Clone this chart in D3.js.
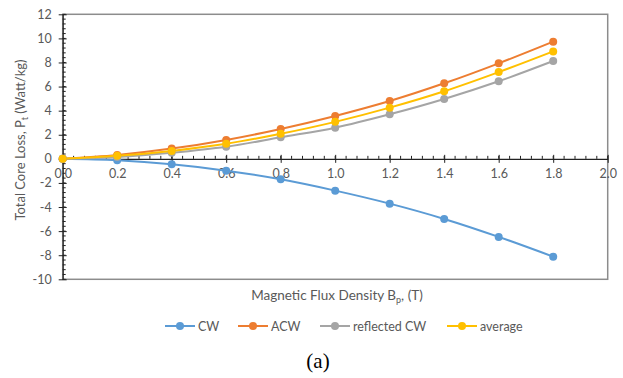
<!DOCTYPE html>
<html><head><meta charset="utf-8">
<script src="https://cdn.jsdelivr.net/npm/d3@7"></script>
<style>body{margin:0;background:#fff}svg{display:block}</style>
</head><body><svg id="c" width="623" height="378" font-family="Lato, 'Open Sans', sans-serif"></svg>
<script>
const B = [0, 0.2, 0.4, 0.6, 0.8, 1.0, 1.2, 1.4, 1.6, 1.8];
const CW = [0, -0.12, -0.45, -0.98, -1.7, -2.64, -3.72, -4.99, -6.48, -8.12];
const ACW = [0, 0.32, 0.85, 1.57, 2.48, 3.56, 4.8, 6.27, 7.93, 9.73];
const reflectedCW = [0, 0.15, 0.5, 1.0, 1.79, 2.59, 3.7, 4.97, 6.44, 8.12];
const average = [0, 0.25, 0.66, 1.25, 2.08, 3.07, 4.25, 5.61, 7.2, 8.92];
const xTicks = [0, 0.2, 0.4, 0.6, 0.8, 1.0, 1.2, 1.4, 1.6, 1.8, 2.0];
const yTicks = [-10, -8, -6, -4, -2, 0, 2, 4, 6, 8, 10, 12];
const seriesNames = ["CW", "ACW", "reflected CW", "average"];
const seriesColors = ["#5B9BD5", "#ED7D31", "#A5A5A5", "#FFC000"];
const seriesData = [CW, ACW, reflectedCW, average];

const svg = d3.select("#c");
const L = 62.7, R = 607.7, T = 14.3, Bt = 279.3;
const x = d3.scaleLinear().domain([0, 2]).range([L, R]);
const y = d3.scaleLinear().domain([-10, 12]).range([Bt, T]);
const grey = "#595959";
const FONT = "Lato, 'Open Sans', sans-serif";

// plot box
svg.append("rect").attr("x", L).attr("y", T).attr("width", R - L).attr("height", Bt - T)
  .attr("fill", "none").attr("stroke", "#8c8c8c").attr("stroke-width", 1.5);

// minor ticks
const xMinor = d3.range(0, 2.0001, 0.04);
const yMinor = d3.range(-10, 12.0001, 0.4);
svg.append("g").selectAll("line").data(xMinor).join("line")
  .attr("x1", d => x(d)).attr("x2", d => x(d)).attr("y1", y(0) - 3).attr("y2", y(0))
  .attr("stroke", "#222").attr("stroke-width", 1);
svg.append("g").selectAll("line").data(yMinor).join("line")
  .attr("x1", L).attr("x2", L + 3).attr("y1", d => y(d)).attr("y2", d => y(d))
  .attr("stroke", "#222").attr("stroke-width", 1);

// x axis at y=0
const gx = svg.append("g").attr("transform", `translate(0,${y(0)})`)
  .call(d3.axisBottom(x).tickValues(xTicks).tickFormat(d3.format(".1f")).tickSize(4).tickSizeOuter(0));
gx.attr("font-family", FONT);
gx.select(".domain").attr("stroke", "#222").attr("stroke-width", 1.2);
gx.selectAll(".tick line").attr("y1", -4).attr("y2", 4).attr("stroke", "#222");
gx.selectAll(".tick text").attr("y", 10).attr("fill", grey).attr("font-size", 12.5);

// y axis
const gy = svg.append("g").attr("transform", `translate(${L},0)`)
  .call(d3.axisLeft(y).tickValues(yTicks).tickFormat(d => String(d)).tickSize(4).tickSizeOuter(0));
gy.attr("font-family", FONT);
gy.select(".domain").attr("stroke", "#222").attr("stroke-width", 1.2);
gy.selectAll(".tick line").attr("x1", -4).attr("x2", 4).attr("stroke", "#222");
gy.selectAll(".tick text").attr("x", -11).attr("fill", grey).attr("font-size", 12.5);

// series
const line = d3.line().x((d, i) => x(B[i])).y(d => y(d)).curve(d3.curveCatmullRom.alpha(0.5));
seriesData.forEach((s, k) => {
  svg.append("path").datum(s).attr("d", line).attr("fill", "none")
    .attr("stroke", seriesColors[k]).attr("stroke-width", 2);
});
seriesData.forEach((s, k) => {
  svg.append("g").selectAll("circle").data(s).join("circle")
    .attr("cx", (d, i) => x(B[i])).attr("cy", d => y(d)).attr("r", 4)
    .attr("fill", seriesColors[k]);
});

// axis titles
const xt = svg.append("text").attr("x", 337).attr("y", 300).attr("text-anchor", "middle")
  .attr("fill", grey).attr("font-size", 13.5);
xt.append("tspan").text("Magnetic Flux Density B");
xt.append("tspan").text("p").attr("font-size", 9).attr("dy", 3);
xt.append("tspan").text(", (T)").attr("dy", -3);

const yt = svg.append("text").attr("transform", "translate(25,140) rotate(-90)").attr("text-anchor", "middle")
  .attr("fill", grey).attr("font-size", 13);
yt.append("tspan").text("Total Core Loss, P");
yt.append("tspan").text("t").attr("font-size", 9).attr("dy", 3);
yt.append("tspan").text(" (Watt/kg)").attr("dy", -3);

// legend
const legX = [165, 238, 320, 447];
const lg = svg.append("g");
seriesNames.forEach((n, k) => {
  const g = lg.append("g").attr("transform", `translate(${legX[k]},326)`);
  g.append("line").attr("x1", 0).attr("x2", 30).attr("stroke", seriesColors[k]).attr("stroke-width", 2);
  g.append("circle").attr("cx", 15).attr("r", 4).attr("fill", seriesColors[k]);
  g.append("text").attr("x", 33).attr("y", 4.5).attr("fill", grey).attr("font-size", 12.5).text(n);
});

svg.append("text").attr("x", 318).attr("y", 368).attr("text-anchor", "middle")
  .attr("font-family", "'Liberation Serif', 'DejaVu Serif', serif").attr("font-size", 21).attr("fill", "#000").text("(a)");
</script></body></html>
